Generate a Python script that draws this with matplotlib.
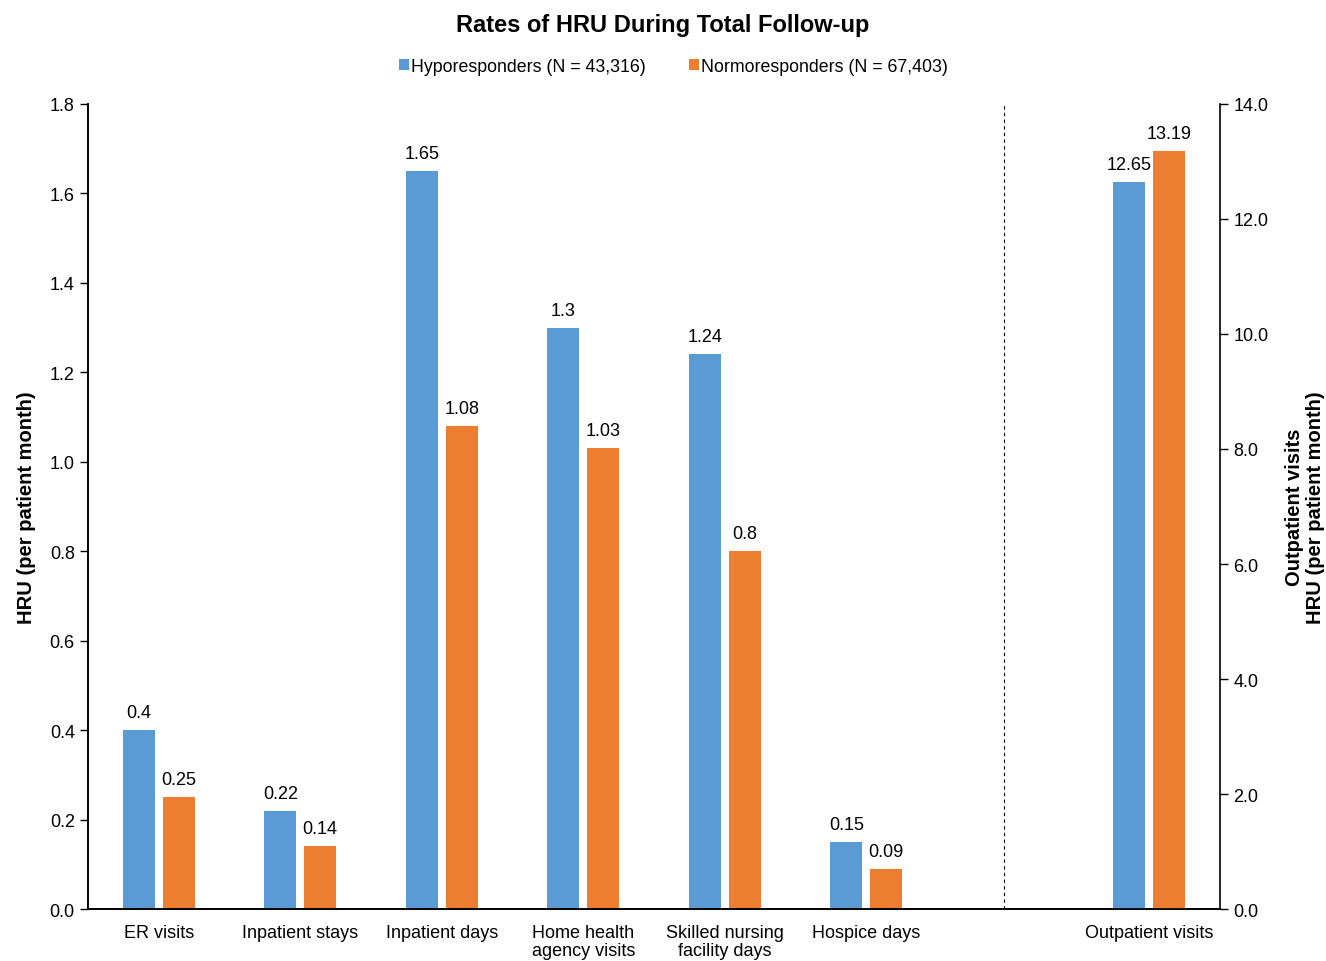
import numpy as np
import matplotlib.pyplot as plt

plt.rcParams['font.family'] = ['Liberation Sans', 'DejaVu Sans']

# data
categories = ['ER visits', 'Inpatient stays', 'Inpatient days', 'Home health\nagency visits',
              'Skilled nursing\nfacility days', 'Hospice days']
hypo = [0.4, 0.22, 1.65, 1.3, 1.24, 0.15]
normo = [0.25, 0.14, 1.08, 1.03, 0.8, 0.09]
hypo_labels = ['0.4', '0.22', '1.65', '1.3', '1.24', '0.15']
normo_labels = ['0.25', '0.14', '1.08', '1.03', '0.8', '0.09']

out_category = 'Outpatient visits'
out_hypo = [12.65]
out_normo = [13.19]

blue = '#5B9BD5'
orange = '#ED7D31'
w = 0.226
off = 0.141

fig = plt.figure(figsize=(13.26, 9.62), dpi=100)
ax = fig.add_axes([0.0664, 0.054, 0.8537, 0.8369])
ax2 = ax.twinx()

x = np.arange(len(categories))
x_out = np.array([7])

b1 = ax.bar(x - off, hypo, w, color=blue, label='Hyporesponders (N = 43,316)')
b2 = ax.bar(x + off, normo, w, color=orange, label='Normoresponders (N = 67,403)')
ax.bar_label(b1, labels=hypo_labels, padding=6.5, fontsize=13)
ax.bar_label(b2, labels=normo_labels, padding=6.5, fontsize=13)

b3 = ax2.bar(x_out - off, out_hypo, w, color=blue)
b4 = ax2.bar(x_out + off, out_normo, w, color=orange)
ax2.bar_label(b3, labels=['12.65'], padding=6.5, fontsize=13)
ax2.bar_label(b4, labels=['13.19'], padding=6.5, fontsize=13)

# dashed separator
ax.axvline(5.97, color='black', lw=0.8, ls=(0, (3, 3)))

ax.set_xlim(-0.5, 7.5)
ax.set_ylim(0, 1.8)
ax2.set_ylim(0, 14)
ax.set_yticks(np.arange(0, 1.81, 0.2))
ax.set_yticklabels([f'{v:.1f}' for v in np.arange(0, 1.81, 0.2)])
ax2.set_yticks(np.arange(0, 14.1, 2))
ax2.set_yticklabels([f'{v:.1f}' for v in np.arange(0, 14.1, 2)])

ax.set_xticks(list(x) + [7])
ax.set_xticklabels(categories + [out_category], fontsize=13, linespacing=1.05)
ax.tick_params(axis='x', length=0, pad=11)
ax.tick_params(axis='y', labelsize=13, direction='out', length=6, width=1)
ax2.tick_params(axis='y', labelsize=13, direction='out', length=6, width=1)

for a in (ax, ax2):
    a.spines['top'].set_visible(False)
    a.spines['bottom'].set_linewidth(1.2)
    a.spines['left'].set_linewidth(1.2)
    a.spines['right'].set_linewidth(1.2)
ax.spines['right'].set_visible(False)

ax.set_ylabel('HRU (per patient month)', fontsize=14.5, fontweight='bold', labelpad=10)
ax2.set_ylabel('Outpatient visits\nHRU (per patient month)', fontsize=14.5, fontweight='bold',
               labelpad=12, linespacing=1.1)

fig.suptitle('Rates of HRU During Total Follow-up', fontsize=17, fontweight='bold', y=0.985)
fig.legend(handles=[b1, b2], loc='center', bbox_to_anchor=(0.508, 0.930), ncol=2, frameon=False,
           fontsize=12.8, handlelength=0.55, handleheight=0.55, handletextpad=0.15, columnspacing=2.4)

plt.savefig('out.png', dpi=100)
